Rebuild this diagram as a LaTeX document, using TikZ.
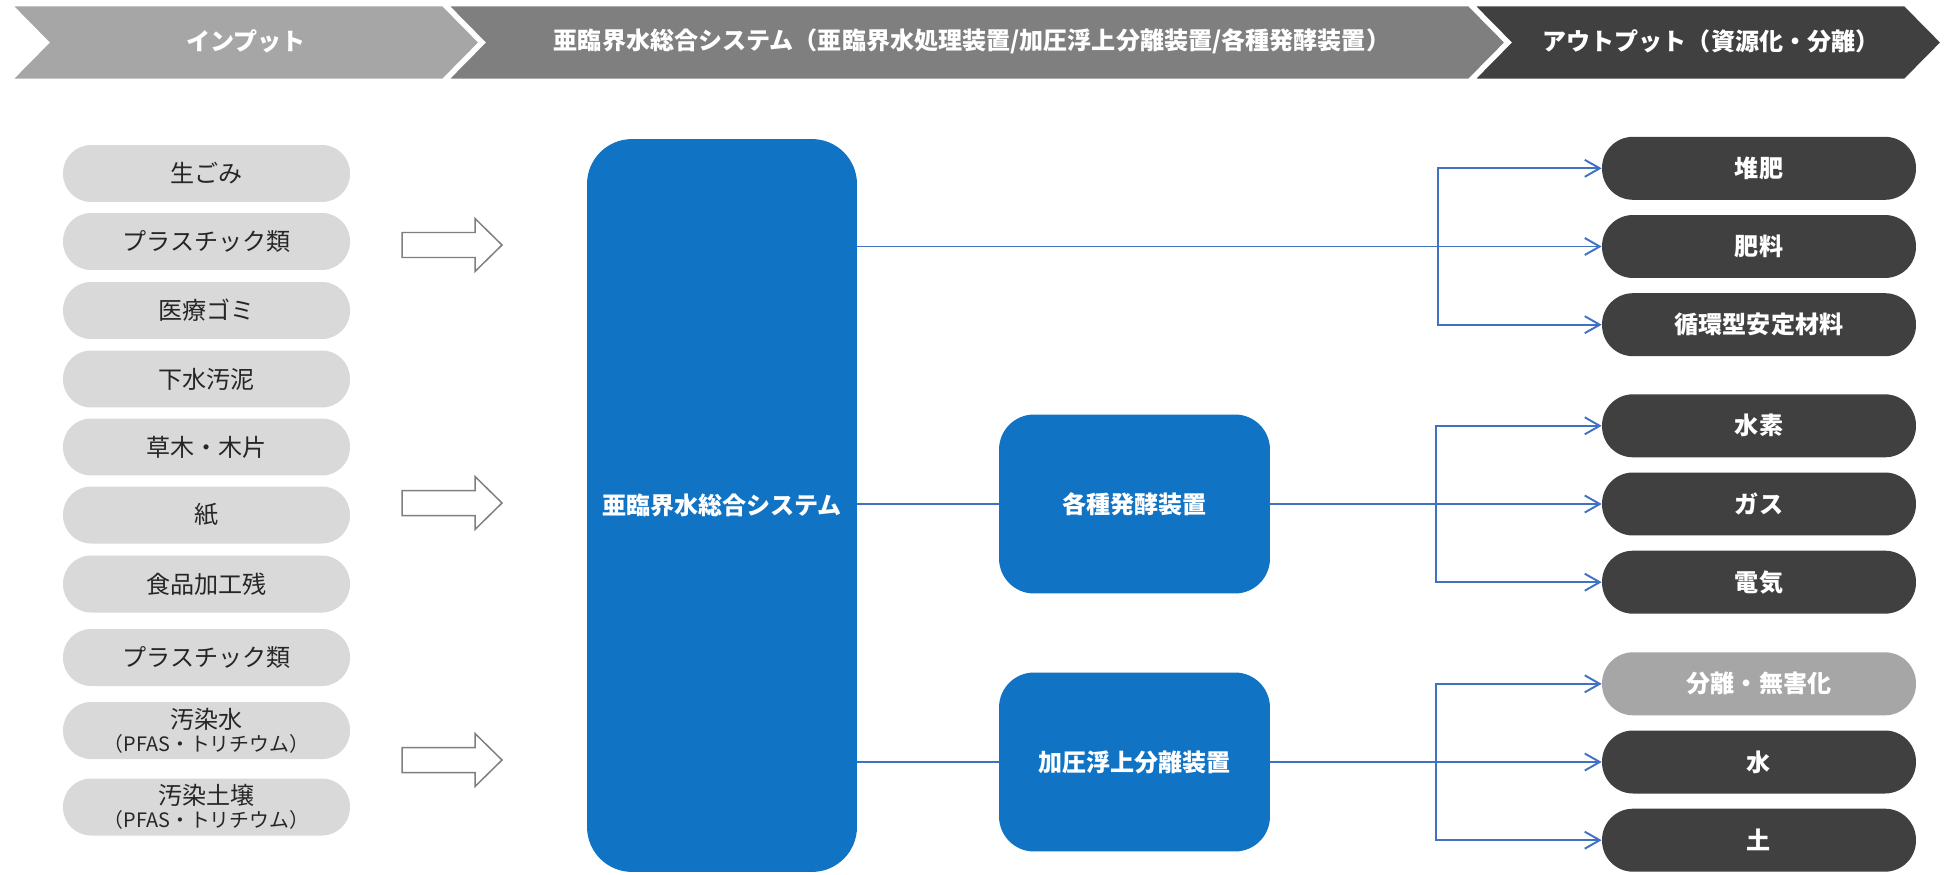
\documentclass[tikz,border=0pt]{standalone}
\usepackage{fontspec}
\setmainfont{Noto Sans CJK JP}
\usepackage{tikz}
\usetikzlibrary{arrows.meta,positioning}
\definecolor{BandLight}{HTML}{A6A6A6}
\definecolor{BandMid}{HTML}{7F7F7F}
\definecolor{BandDark}{HTML}{404040}
\definecolor{InFill}{HTML}{D9D9D9}
\definecolor{InText}{HTML}{262626}
\definecolor{SysBlue}{HTML}{1173C4}
\definecolor{LinkBlue}{HTML}{3F72C2}
\newcommand{\fsz}{\fontsize{13.7}{16}\selectfont}
\newcommand{\fsub}{\fontsize{11.3}{13}\selectfont}

\begin{document}
\begin{tikzpicture}[x=0.02cm, y=-0.02cm, node distance=0.29cm,
  band/.style={draw=white, line width=1.5pt},
  headtxt/.style={text=white, font=\fsz\bfseries},
  inbox/.style={fill=InFill, text=InText, rounded corners=0.56cm,
    minimum width=5.74cm, minimum height=1.14cm, inner sep=0pt,
    align=center, font=\fsz},
  outbox/.style={fill=BandDark, text=white, rounded corners=0.62cm,
    minimum width=6.28cm, minimum height=1.26cm, inner sep=0pt,
    font=\fsz\bfseries},
  unit/.style={fill=SysBlue, text=white, rounded corners=0.7cm,
    minimum width=5.42cm, minimum height=3.58cm, font=\fsz\bfseries},
  hollow/.style={draw=BandMid, fill=white, line width=0.85pt},
  link/.style={draw=LinkBlue, line width=1.1pt},
  arr/.style={link, -{Straight Barb[length=0.3cm, width=0.34cm]}}]
  \fill[white] (0,0) rectangle (1950,875);
  \useasboundingbox (0,0) rectangle (1950,875);

  % header bands
  \filldraw[band, fill=BandLight] (11,5) -- (443,5) -- (480,42.5) -- (443,80)
    -- (11,80) -- (48,42.5) -- cycle;
  \filldraw[band, fill=BandMid] (447,5) -- (1469,5) -- (1506,42.5) -- (1469,80)
    -- (447,80) -- (484,42.5) -- cycle;
  \filldraw[band, fill=BandDark] (1473,5) -- (1905,5) -- (1942,42.5) -- (1905,80)
    -- (1473,80) -- (1510,42.5) -- cycle;
  \node[headtxt] (h1) at (246,41) {インプット};
  \node[headtxt] (h2) at (972,41) {亜臨界水総合システム（亜臨界水処理装置/加圧浮上分離装置/各種発酵装置）};
  \node[headtxt] (h3) at (1711,41) {アウトプット（資源化・分離）};

  % inputs
  \node[inbox] (in1) at (206.5,173.5) {生ごみ};
  \node[inbox] (in2) at (206.5,241.5) {プラスチック類};
  \node[inbox] (in3) at (206.5,310.5) {医療ゴミ};
  \node[inbox] (in4) at (206.5,379) {下水汚泥};
  \node[inbox] (in5) at (206.5,447) {草木・木片};
  \node[inbox] (in6) at (206.5,515) {紙};
  \node[inbox] (in7) at (206.5,584) {食品加工残};
  \node[inbox] (in8) at (206.5,657.5) {プラスチック類};
  \node[inbox] (in9) at (206.5,730.5) {汚染水\\[-3pt]{\fsub（PFAS・トリチウム）}};
  \node[inbox] (in10) at (206.5,807) {汚染土壌\\[-3pt]{\fsub（PFAS・トリチウム）}};

  \foreach \y in {245,503,760}
    \draw[hollow] (402,\y-12.5) -- (475,\y-12.5) -- (475,\y-26.5) -- (502,\y)
      -- (475,\y+26.5) -- (475,\y+12.5) -- (402,\y+12.5) -- cycle;

  % system and units
  \node[unit, minimum width=5.4cm, minimum height=14.66cm, rounded corners=0.9cm]
    (sys) at (722,505.5) {亜臨界水総合システム};
  \node[unit] (ferm) at (1134.5,504) {各種発酵装置};
  \node[unit] (sep) at (1134.5,762) {加圧浮上分離装置};

  % outputs
  \node[outbox] (o2) at (1759,246.5) {肥料};
  \node[outbox, above=of o2] (o1) {堆肥};
  \node[outbox, below=of o2] (o3) {循環型安定材料};
  \node[outbox] (o5) at (1759,504) {ガス};
  \node[outbox, above=of o5] (o4) {水素};
  \node[outbox, below=of o5] (o6) {電気};
  \node[outbox] (o8) at (1759,762) {水};
  \node[outbox, above=of o8, fill=BandLight] (o7) {分離・無害化};
  \node[outbox, below=of o8] (o9) {土};

  \coordinate (j1) at (1438,246.5);
  \coordinate (j2) at (1436,504);
  \coordinate (j3) at (1436,762);

  % connectors
  \draw[arr] (sys.east |- o2.west) -- (o2.west);
  \draw[arr] (j1) |- (o1.west);
  \draw[arr] (j1) |- (o3.west);
  \draw[link] (sys.east |- ferm.west) -- (ferm.west);
  \draw[link] (sys.east |- sep.west) -- (sep.west);
  \draw[arr] (ferm.east) -- (o5.west);
  \draw[arr] (j2) |- (o4.west);
  \draw[arr] (j2) |- (o6.west);
  \draw[arr] (sep.east) -- (o8.west);
  \draw[arr] (j3) |- (o7.west);
  \draw[arr] (j3) |- (o9.west);
\end{tikzpicture}
\end{document}
